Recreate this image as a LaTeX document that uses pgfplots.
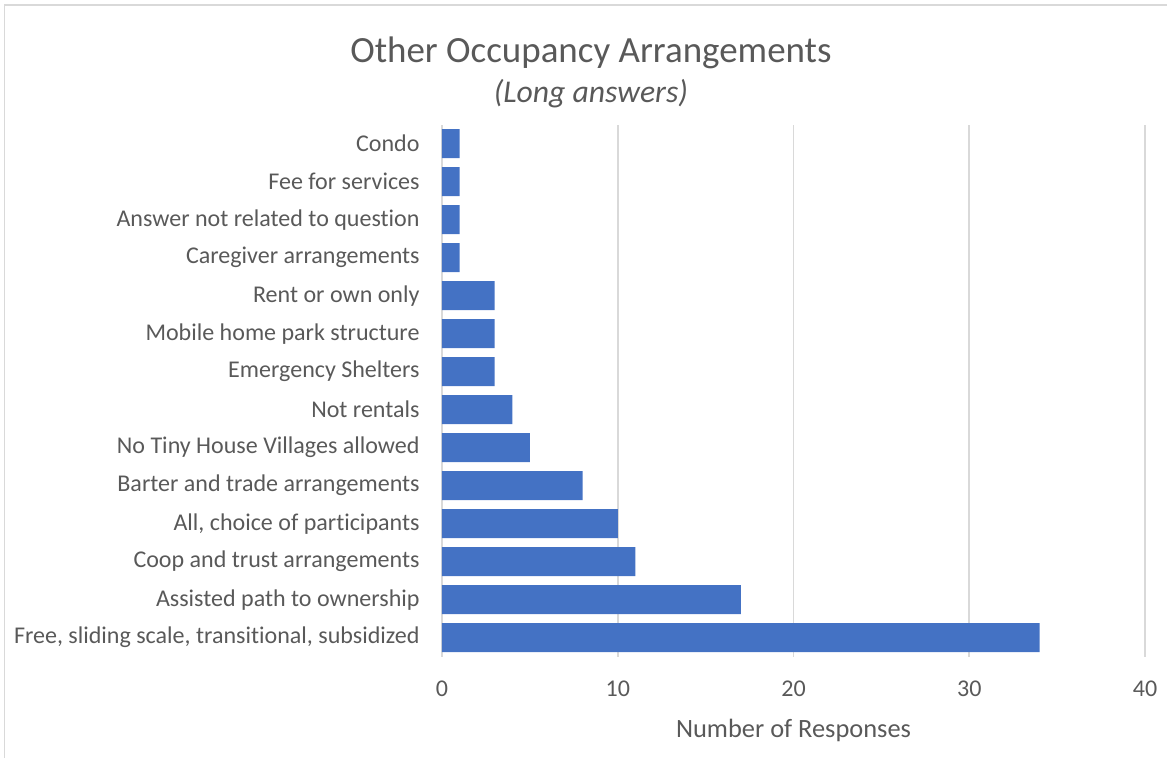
\documentclass[border=0pt]{standalone}
\usepackage{fontspec}
\setmainfont{Carlito}[Ligatures=NoCommon]
\usepackage{pgfplots}
\pgfplotsset{compat=1.18}
\definecolor{barblue}{HTML}{4472C4}
\definecolor{textgray}{HTML}{595959}
\definecolor{gridgray}{HTML}{D9D9D9}
\begin{document}
\begin{tikzpicture}
\begin{axis}[
  at={(0,0)}, anchor=south west,
  scale only axis, width=266.3pt, height=201.5pt,
  xmin=0, xmax=40, ymin=-0.5, ymax=13.5,
  axis line style={draw=none},
  tick style={draw=none}, major tick length=0pt,
  xtick={0,10,20,30,40},
  xmajorgrids, grid style={color=gridgray, line width=0.7pt},
  ytick={0,...,13},
  yticklabels={{Free, sliding scale, transitional, subsidized},
    {Assisted path to ownership},{Coop and trust arrangements},
    {All, choice of participants},{Barter and trade arrangements},
    {No Tiny House Villages allowed},{Not rentals},{Emergency Shelters},
    {Mobile home park structure},{Rent or own only},{Caregiver arrangements},
    {Answer not related to question},{Fee for services},{Condo}},
  /pgf/number format/assume math mode=true,
  yticklabel style={font=\fontsize{9.1}{11}\selectfont, color=textgray, anchor=east, inner sep=0pt, xshift=-8.3pt},
  xticklabel style={font=\fontsize{9.1}{11}\selectfont, color=textgray, anchor=north, inner sep=0pt, yshift=-9.1pt},
  xlabel={Number of Responses},
  xlabel style={font=\fontsize{10}{12}\selectfont, color=textgray, at={(axis description cs:0.5,0)}, anchor=north, inner sep=0pt, yshift=-23.3pt},
]
\addplot[xbar, bar width=11pt, fill=barblue, draw=none] coordinates {
(34,0) (17,1) (11,2) (10,3) (8,4) (5,5) (4,6) (3,7) (3,8) (3,9) (1,10) (1,11) (1,12) (1,13)};
\end{axis}
\node[anchor=base, inner sep=0pt, text=textgray, font=\fontsize{14}{16}\selectfont] at (56.4pt,225.0pt) {Other Occupancy Arrangements};
\node[anchor=base, inner sep=0pt, text=textgray, font=\fontsize{12}{14}\selectfont\itshape] at (56.4pt,209.7pt) {(Long answers)};
\draw[gridgray, line width=0.7pt] (-165.7pt,-40pt) -- (-165.7pt,246.8pt) -- (280pt,246.8pt);
\pgfresetboundingbox
\path[use as bounding box] (-167.4pt,-38.1pt) rectangle (274.6pt,248.7pt);
\end{tikzpicture}
\end{document}
